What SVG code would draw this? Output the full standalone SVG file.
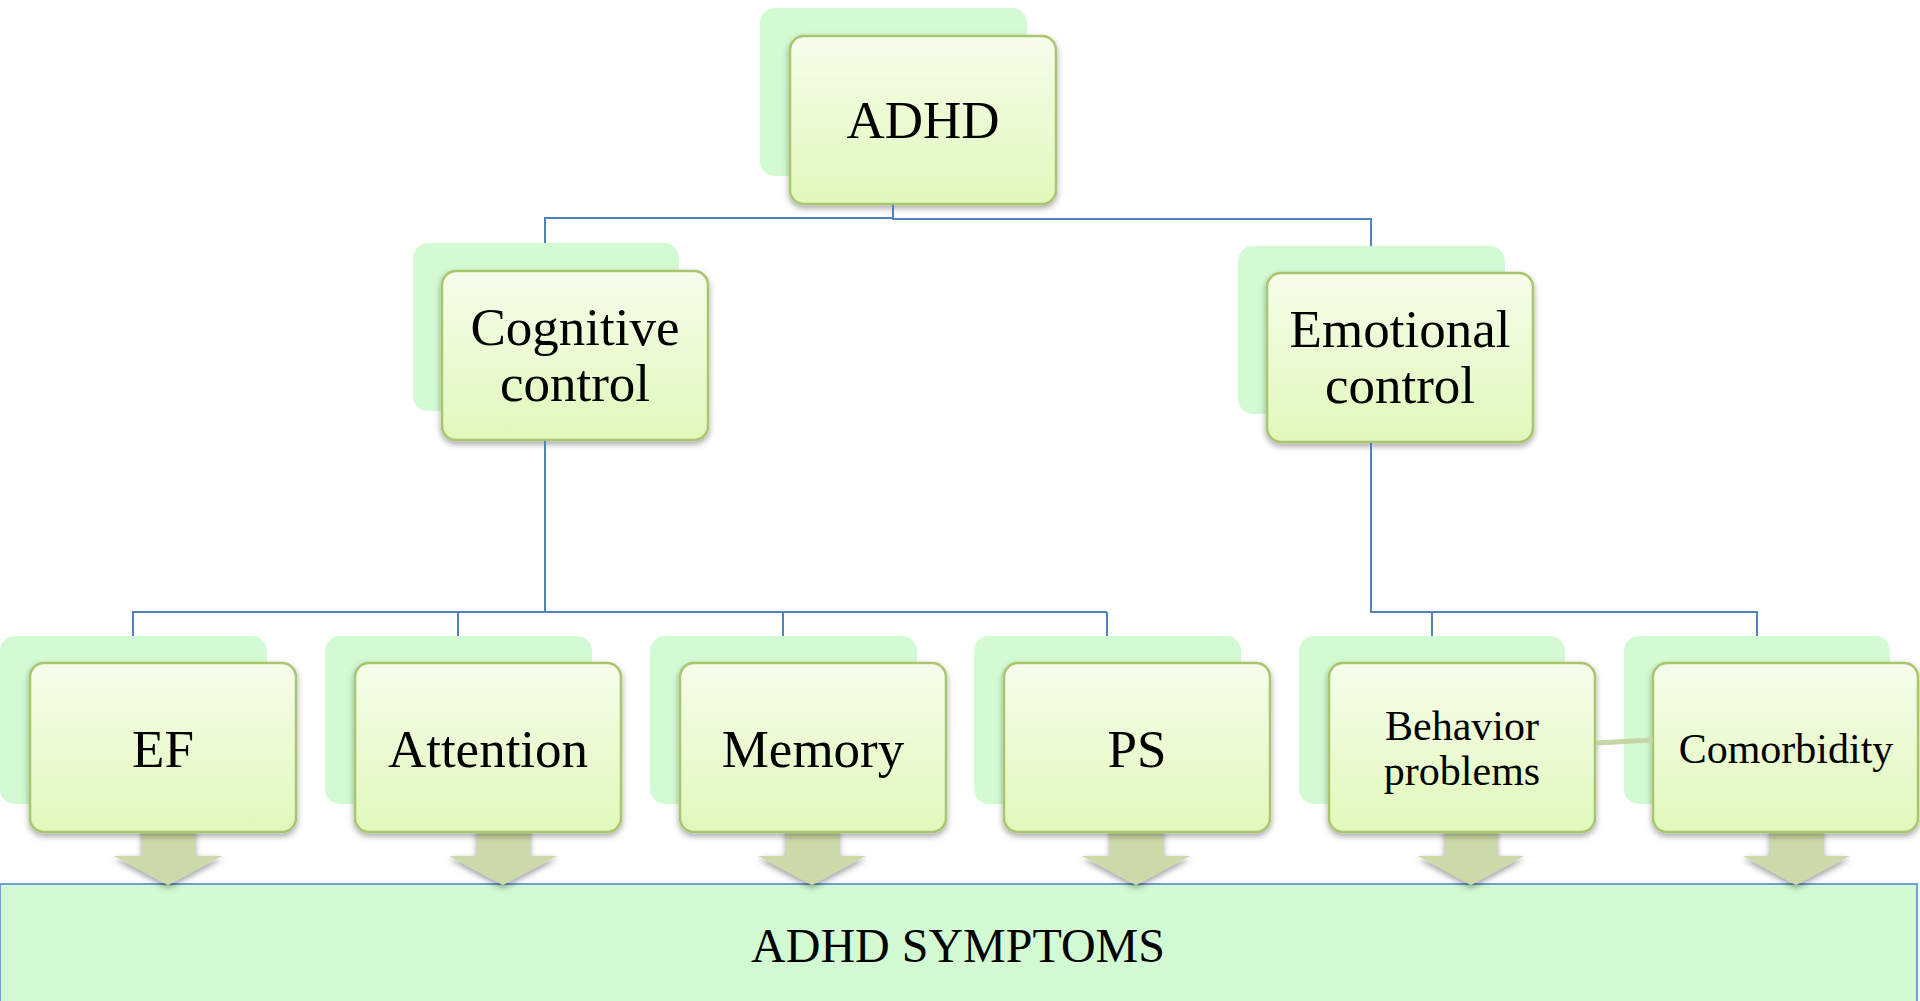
<svg xmlns="http://www.w3.org/2000/svg" width="1920" height="1001" viewBox="0 0 1920 1001">
<defs>
<linearGradient id="fg" x1="0" y1="0" x2="0" y2="1">
<stop offset="0" stop-color="#f6fdeb"/>
<stop offset="1" stop-color="#e0f8ba"/>
</linearGradient>
<filter id="sh" x="-10%" y="-10%" width="120%" height="130%">
<feDropShadow dx="0" dy="3" stdDeviation="3" flood-color="#000" flood-opacity="0.35"/>
</filter>
<filter id="ash" x="-20%" y="-20%" width="140%" height="150%">
<feDropShadow dx="0" dy="3" stdDeviation="3" flood-color="#000" flood-opacity="0.4"/>
</filter>
</defs>
<style>
.back{fill:#d3fbd3;}
.front{fill:url(#fg);stroke:#a9c56d;stroke-width:2.5;filter:url(#sh);}
.t{font-family:"Liberation Serif","Times New Roman",serif;fill:#000;text-anchor:middle;}
.big{font-size:53px;}
.small{font-size:42px;}
.conn{fill:none;stroke:#4f81bd;stroke-width:2;}
.arrow{fill:#cbdaa8;filter:url(#ash);}
</style>
<rect width="1920" height="1001" fill="#fff"/>

<g id="symptoms">
<rect x="0" y="884" width="1917" height="120" fill="#d3fbd3" stroke="#6e9fd5" stroke-width="2"/>
<text class="t" x="958" y="962" style="font-size:48px">ADHD SYMPTOMS</text>
</g>

<g id="arrows">
<polygon class="arrow" points="142,826 195,826 195,856 222,856 168,885 114,856 142,856"/>
<polygon class="arrow" points="477,826 530,826 530,856 557,856 503,885 449,856 477,856"/>
<polygon class="arrow" points="786,826 839,826 839,856 866,856 812,885 758,856 786,856"/>
<polygon class="arrow" points="1110,826 1163,826 1163,856 1190,856 1136,885 1082,856 1110,856"/>
<polygon class="arrow" points="1445,826 1497,826 1497,856 1524,856 1471,885 1418,856 1445,856"/>
<polygon class="arrow" points="1770,826 1823,826 1823,856 1850,856 1796,885 1743,856 1770,856"/>
</g>

<g id="adhd">
<rect class="back" x="760" y="8" width="267" height="168" rx="15"/>
<rect class="front" x="790" y="36" width="266" height="168" rx="14"/>
<text class="t big" x="923" y="138">ADHD</text>
</g>

<g id="cognitive">
<rect class="back" x="413" y="243" width="266" height="168" rx="15"/>
<rect class="front" x="442" y="271" width="266" height="169" rx="14"/>
<text class="t big" x="575" y="345">Cognitive</text>
<text class="t big" x="575" y="401">control</text>
</g>

<g id="emotional">
<rect class="back" x="1238" y="246" width="267" height="168" rx="15"/>
<rect class="front" x="1267" y="273" width="266" height="169" rx="14"/>
<text class="t big" x="1400" y="347">Emotional</text>
<text class="t big" x="1400" y="403">control</text>
</g>

<g id="ef">
<rect class="back" x="0" y="636" width="267" height="168" rx="15"/>
<rect class="front" x="30" y="663" width="266" height="169" rx="14"/>
<text class="t big" x="163" y="767">EF</text>
</g>

<g id="attention">
<rect class="back" x="325" y="636" width="267" height="168" rx="15"/>
<rect class="front" x="355" y="663" width="266" height="169" rx="14"/>
<text class="t big" x="488" y="767">Attention</text>
</g>

<g id="memory">
<rect class="back" x="650" y="636" width="267" height="168" rx="15"/>
<rect class="front" x="680" y="663" width="266" height="169" rx="14"/>
<text class="t big" x="813" y="767">Memory</text>
</g>

<g id="ps">
<rect class="back" x="974" y="636" width="267" height="168" rx="15"/>
<rect class="front" x="1004" y="663" width="266" height="169" rx="14"/>
<text class="t big" x="1137" y="767">PS</text>
</g>

<g id="behavior">
<rect class="back" x="1299" y="636" width="266" height="168" rx="15"/>
<rect class="front" x="1329" y="663" width="266" height="169" rx="14"/>
<text class="t small" x="1462" y="740">Behavior</text>
<text class="t small" x="1462" y="785">problems</text>
</g>

<g id="comorbidity">
<rect class="back" x="1624" y="636" width="266" height="168" rx="15"/>
<rect class="front" x="1653" y="663" width="265" height="169" rx="14"/>
<text class="t small" x="1786" y="763">Comorbidity</text>
</g>

<g id="connectors">
<path class="conn" d="M893 205 V218 H545 V243"/>
<path class="conn" d="M893 205 V219 H1371 V246"/>
<path class="conn" d="M545 441 V612 H133 V636 M458 612 V636 M783 612 V636 M1107 612 V636 M545 612 H1107"/>
<path class="conn" d="M1371 443 V612 H1757 V636 M1432 612 V636"/>
<path d="M1596 743 L1653 740" stroke="#c5d5a3" stroke-width="5" fill="none"/>
</g>
</svg>
